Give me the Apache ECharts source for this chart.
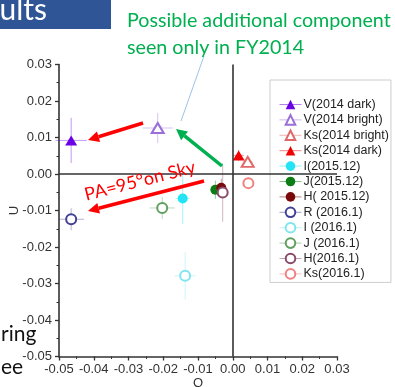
<!DOCTYPE html>
<html><head><meta charset="utf-8">
<script src="https://cdn.jsdelivr.net/npm/echarts@6/dist/echarts.min.js"></script>
<style>html,body{margin:0;padding:0;background:#fff;overflow:hidden}#c{width:395px;height:387px}</style>
</head><body><div id="c"></div>
<script>
// ---- data ----
const seriesNames = ['V(2014 dark)','V(2014 bright)','Ks(2014 bright)','Ks(2014 dark)','I(2015.12)','J(2015.12)','H( 2015.12)','R (2016.1)','I (2016.1)','J (2016.1)','H(2016.1)','Ks(2016.1)'];
const qValues  = [-0.0465,-0.0216, 0.0043, 0.0017,-0.0144,-0.0050,-0.0033,-0.0465,-0.0137,-0.0203,-0.0029, 0.0045];
const uValues  = [ 0.0092, 0.0126, 0.0033, 0.0051,-0.0067,-0.0043,-0.0038,-0.0124,-0.0279,-0.0093,-0.0051,-0.0025];
const qErrors  = [ 0.0045, 0.0043, 0.0015, 0.0015, 0.0020, 0.0015, 0.0015, 0.0037, 0.0030, 0.0036, 0.0010, 0.0015];
const uErrors  = [ 0.0062, 0.0041, 0.0015, 0.0015, 0.0070, 0.0025, 0.0025, 0.0030, 0.0065, 0.0030, 0.0080, 0.0015];
const colors   = ['#6a00e6','#9a70d8','#e06a6a','#f00000','#22e4f4','#0b7d14','#7a0a0a','#404098','#80e6ee','#5f9f5f','#8a4a6a','#f08080'];
const symbols  = ['triangle','emptyTriangle','emptyTriangle','triangle','circle','circle','circle','emptyCircle','emptyCircle','emptyCircle','emptyCircle','emptyCircle'];
const axisMin = -0.05, axisMax = 0.03, axisStep = 0.01;

const fmt = v => (Math.abs(v) < 1e-9 ? '0.00' : v.toFixed(2));
const labelFont = {fontFamily:'Liberation Sans', fontSize:13, color:'#333'};

const pointSeries = seriesNames.map((name, i) => ({
  type:'line', name, data:[[qValues[i], uValues[i]]],
  symbol: symbols[i], symbolSize: symbols[i].indexOf('riangle') >= 0 ? [12,10] : 10,
  itemStyle:{color: colors[i], borderWidth: 1.3},
  lineStyle:{color: colors[i], width:1, opacity:0.5},
  z: 4, silent:true, animation:false
}));

const errorSeries = {
  type:'custom', silent:true, z:3, animation:false,
  data: seriesNames.map((n, i) => [qValues[i], uValues[i], qErrors[i], uErrors[i], i]),
  encode:{x:0, y:1},
  renderItem: (params, api) => {
    const x = api.value(0), y = api.value(1), ex = api.value(2), ey = api.value(3), i = api.value(4);
    const a = api.coord([x - ex, y]), b = api.coord([x + ex, y]);
    const c = api.coord([x, y - ey]), d = api.coord([x, y + ey]);
    const style = {stroke: colors[i], lineWidth: 1, opacity: 0.4};
    return {type:'group', children:[
      {type:'line', shape:{x1:a[0], y1:a[1], x2:b[0], y2:b[1]}, style},
      {type:'line', shape:{x1:c[0], y1:c[1], x2:d[0], y2:d[1]}, style}
    ]};
  },
  markLine:{silent:true, symbol:'none', label:{show:false}, animation:false,
    lineStyle:{color:'#333', width:1.6, type:'solid'},
    data:[{xAxis:0},{yAxis:0}]}
};

function arrow(x1, y1, x2, y2, color, w, head, hw) {
  const ang = Math.atan2(y2 - y1, x2 - x1);
  const bx = x2 - head * Math.cos(ang), by = y2 - head * Math.sin(ang);
  const px = -Math.sin(ang) * hw, py = Math.cos(ang) * hw;
  return [
    {type:'line', shape:{x1, y1, x2:bx, y2:by}, style:{stroke:color, lineWidth:w}, z:10},
    {type:'polygon', shape:{points:[[x2, y2],[bx + px, by + py],[bx - px, by - py]]}, style:{fill:color}, z:10}
  ];
}

const chart = echarts.init(document.getElementById('c'), null, {renderer:'canvas'});
chart.setOption({
  backgroundColor:'#fff',
  animation:false,
  grid:{left:59, right:58, top:64.5, bottom:30.5, containLabel:false, outerBoundsMode:'none'},
  xAxis:{type:'value', min:axisMin, max:axisMax, interval:axisStep,
    name:'Q', nameLocation:'middle', nameGap:20, nameMoveOverlap:false, nameTextStyle:{fontFamily:'Liberation Sans', fontSize:13, color:'#333'},
    axisLine:{onZero:false, lineStyle:{color:'#333', width:1.6}},
    axisTick:{inside:false, length:4, lineStyle:{color:'#333', width:1.3}},
    minorTick:{show:true, splitNumber:2, length:2.5, lineStyle:{color:'#333', width:1}},
    splitLine:{show:false},
    axisLabel:Object.assign({formatter:fmt, margin:6}, labelFont)},
  yAxis:{type:'value', min:axisMin, max:axisMax, interval:axisStep,
    name:'U', nameLocation:'middle', nameGap:38, nameMoveOverlap:false, nameRotate:90, nameTextStyle:{fontFamily:'Liberation Sans', fontSize:13, color:'#333'},
    axisLine:{onZero:false, lineStyle:{color:'#333', width:1.6}},
    axisTick:{inside:false, length:4, lineStyle:{color:'#333', width:1.3}},
    minorTick:{show:true, splitNumber:2, length:2.5, lineStyle:{color:'#333', width:1}},
    splitLine:{show:false},
    axisLabel:Object.assign({formatter:fmt, margin:7}, labelFont)},
  legend:{orient:'vertical', left:270, top:80, padding:[18,2,2,9],
    itemWidth:22, itemHeight:12, itemGap:2.4,
    backgroundColor:'#fff', borderColor:'#cccccc', borderWidth:1,
    lineStyle:{width:1, opacity:0.5},
    textStyle:{fontFamily:'Liberation Sans', fontSize:12.5, color:'#222', padding:[0,0,0,-3]},
    data: seriesNames},
  series:[errorSeries].concat(pointSeries),
  graphic:[
    {type:'rect', shape:{x:0, y:0, width:111, height:29}, style:{fill:'#2F5597'}, z:10},
    {type:'text', x:47, y:10, style:{text:'Results', fill:'#fff', font:'30px Lato', textAlign:'right', textVerticalAlign:'middle'}, z:11},
    {type:'text', x:127, y:20.5, style:{text:'Possible additional component', fill:'#00B050', font:'19.7px Lato', textAlign:'left', textVerticalAlign:'middle'}, z:11},
    {type:'text', x:127, y:47.5, style:{text:'seen only in FY2014', fill:'#00B050', font:'19.7px Lato', textAlign:'left', textVerticalAlign:'middle'}, z:11},
    {type:'line', shape:{x1:204, y1:56, x2:181, y2:121}, style:{stroke:'#9DC3E6', lineWidth:1}, z:10},
    {type:'text', x:140, y:181, rotation:0.25, style:{text:'PA=95°on Sky', fill:'#FF0000', font:'18px Lato', textAlign:'center', textVerticalAlign:'middle'}, z:11},
    {type:'text', x:1, y:334.5, style:{text:'ring', fill:'#111', font:'21px Lato', textAlign:'left', textVerticalAlign:'middle'}, z:1},
    {type:'text', x:1, y:367, style:{text:'ee', fill:'#111', font:'21px Lato', textAlign:'left', textVerticalAlign:'middle'}, z:1}
  ].concat(arrow(143, 123, 88, 140, '#FF0000', 3.5, 11, 5.5))
   .concat(arrow(204, 181, 88, 211, '#FF0000', 3.5, 11, 5.5))
   .concat(arrow(222, 166, 176, 129, '#00B050', 3.5, 11, 5.5))
});
</script>
</body></html>
